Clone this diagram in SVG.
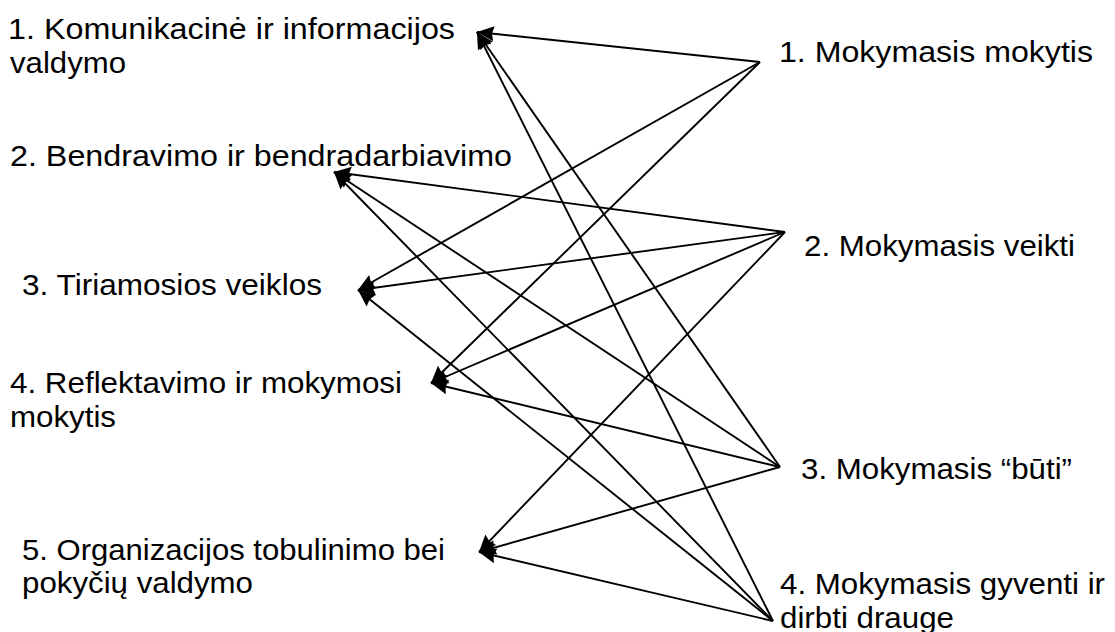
<svg xmlns="http://www.w3.org/2000/svg" width="1115" height="632" viewBox="0 0 1115 632">
<style>
text{font-family:"Liberation Sans",Arial,sans-serif;font-size:29.5px;fill:#000}
.c line{stroke:#000;stroke-width:1.9;fill:none;marker-end:url(#ah)}
</style>
<defs>
<marker id="ah" markerUnits="userSpaceOnUse" viewBox="-19 -9 21 18" refX="0" refY="0" markerWidth="21" markerHeight="18" orient="auto">
<path d="M0,0 L-17,-7.5 L-15,0 L-17,7.5 Z" fill="#000"/>
</marker>
</defs>
<rect width="1115" height="632" fill="#fff"/>
<g id="left1"><text x="8" y="39" textLength="447" lengthAdjust="spacingAndGlyphs">1. Komunikacinė ir informacijos</text><text x="10" y="73" textLength="116" lengthAdjust="spacingAndGlyphs">valdymo</text></g>
<g id="left2"><text x="10" y="166" textLength="502" lengthAdjust="spacingAndGlyphs">2. Bendravimo ir bendradarbiavimo</text></g>
<g id="left3"><text x="22" y="295" textLength="300" lengthAdjust="spacingAndGlyphs">3. Tiriamosios veiklos</text></g>
<g id="left4"><text x="10" y="393" textLength="392" lengthAdjust="spacingAndGlyphs">4. Reflektavimo ir mokymosi</text><text x="10" y="427" textLength="106" lengthAdjust="spacingAndGlyphs">mokytis</text></g>
<g id="left5"><text x="22" y="560" textLength="423" lengthAdjust="spacingAndGlyphs">5. Organizacijos tobulinimo bei</text><text x="22" y="593" textLength="231" lengthAdjust="spacingAndGlyphs">pokyčių valdymo</text></g>
<g id="right1"><text x="779" y="62" textLength="314" lengthAdjust="spacingAndGlyphs">1. Mokymasis mokytis</text></g>
<g id="right2"><text x="804" y="256" textLength="271" lengthAdjust="spacingAndGlyphs">2. Mokymasis veikti</text></g>
<g id="right3"><text x="801" y="479" textLength="271" lengthAdjust="spacingAndGlyphs">3. Mokymasis “būti”</text></g>
<g id="right4"><text x="780" y="594" textLength="325" lengthAdjust="spacingAndGlyphs">4. Mokymasis gyventi ir</text><text x="780" y="628" textLength="174" lengthAdjust="spacingAndGlyphs">dirbti drauge</text></g>
<g id="connectors" class="c">
<line x1="760" y1="62" x2="477" y2="32"/>
<line x1="760" y1="62" x2="358" y2="290"/>
<line x1="760" y1="62" x2="431" y2="383"/>
<line x1="785" y1="232" x2="334" y2="172"/>
<line x1="785" y1="232" x2="358" y2="290"/>
<line x1="785" y1="232" x2="431" y2="383"/>
<line x1="785" y1="232" x2="479" y2="552"/>
<line x1="780" y1="467" x2="477" y2="32"/>
<line x1="780" y1="467" x2="334" y2="172"/>
<line x1="780" y1="467" x2="431" y2="383"/>
<line x1="780" y1="467" x2="479" y2="552"/>
<line x1="773" y1="621" x2="477" y2="32"/>
<line x1="773" y1="621" x2="334" y2="172"/>
<line x1="773" y1="621" x2="358" y2="290"/>
<line x1="773" y1="621" x2="479" y2="552"/>
</g>
</svg>
